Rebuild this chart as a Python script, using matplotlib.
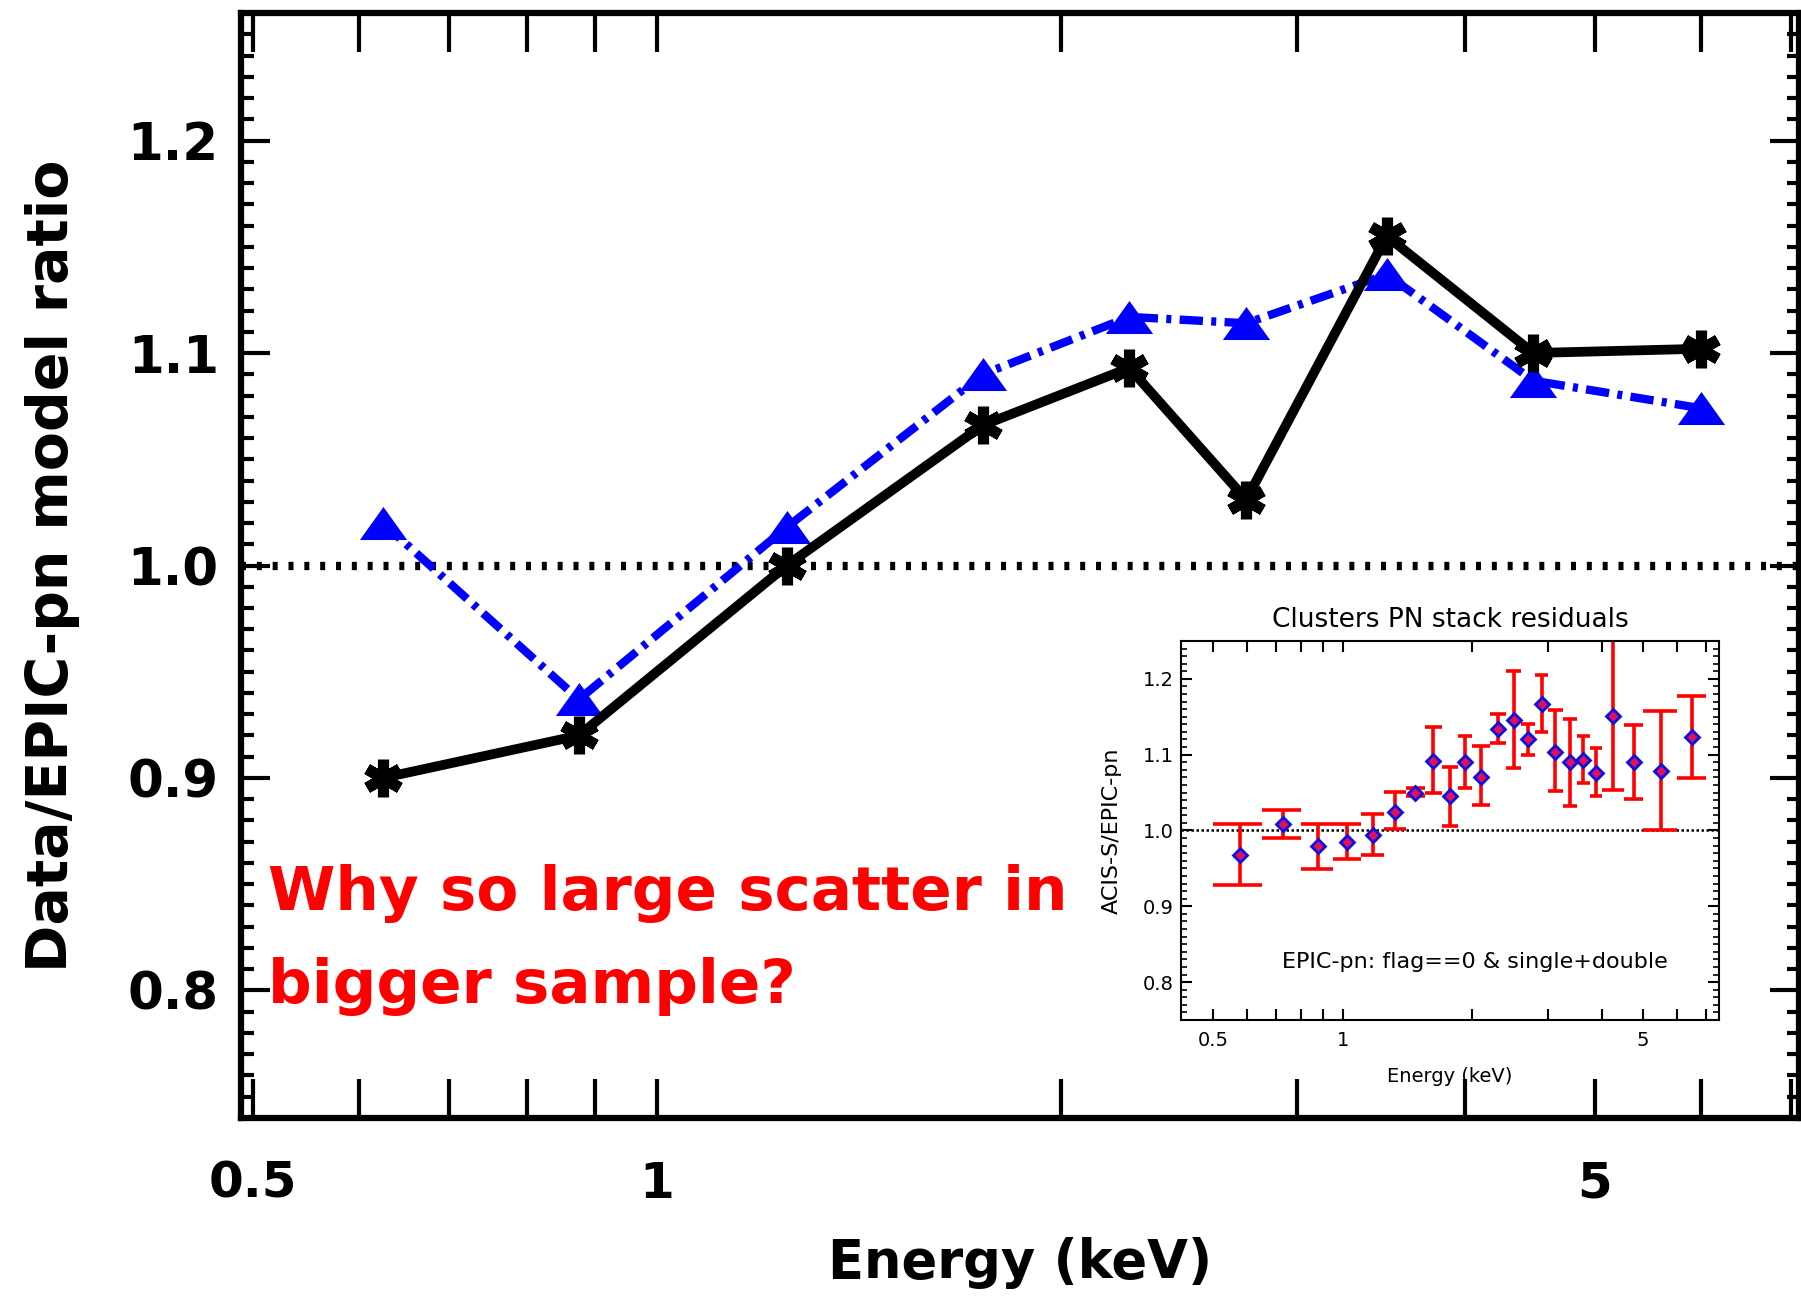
import matplotlib.pyplot as plt
from matplotlib.ticker import MultipleLocator, NullFormatter

# main panel: stacked data / EPIC-pn model ratio
energy = [0.625, 0.875, 1.25, 1.75, 2.25, 2.75, 3.5, 4.5, 6.0]
ratio_black = [0.900, 0.920, 1.000, 1.066, 1.093, 1.031, 1.155, 1.100, 1.102]
ratio_blue = [1.020, 0.937, 1.018, 1.090, 1.117, 1.114, 1.137, 1.087, 1.074]

# inset: clusters PN stack residuals (bin edges, centres, value, upper, lower)
bin_lo = [0.5, 0.65, 0.8, 0.95, 1.1, 1.25, 1.4, 1.55, 1.7, 1.85, 2.0, 2.2,
          2.4, 2.6, 2.8, 3.0, 3.25, 3.5, 3.75, 4.0, 4.5, 5.0, 6.0]
bin_hi = [0.65, 0.8, 0.95, 1.1, 1.25, 1.4, 1.55, 1.7, 1.85, 2.0, 2.2, 2.4,
          2.6, 2.8, 3.0, 3.25, 3.5, 3.75, 4.0, 4.5, 5.0, 6.0, 7.0]
res_e = [0.575, 0.725, 0.875, 1.025, 1.175, 1.325, 1.475, 1.625, 1.775, 1.925,
         2.1, 2.3, 2.5, 2.7, 2.9, 3.125, 3.375, 3.625, 3.875, 4.25, 4.75, 5.5, 6.5]
res_val = [0.968, 1.008, 0.979, 0.985, 0.994, 1.025, 1.050, 1.091, 1.045, 1.090,
           1.071, 1.134, 1.146, 1.120, 1.167, 1.104, 1.090, 1.093, 1.076, 1.151,
           1.090, 1.078, 1.123]
res_hi = [1.008, 1.027, 1.009, 1.009, 1.022, 1.051, 1.056, 1.136, 1.084, 1.124,
          1.111, 1.154, 1.211, 1.141, 1.205, 1.159, 1.147, 1.125, 1.109, 1.260,
          1.139, 1.157, 1.177]
res_lo = [0.928, 0.990, 0.949, 0.963, 0.968, 1.002, 1.045, 1.050, 1.006, 1.056,
          1.033, 1.115, 1.082, 1.100, 1.130, 1.052, 1.032, 1.062, 1.046, 1.053,
          1.042, 1.000, 1.069]

xmajor = [0.5, 1, 5]
xminor = [0.6, 0.7, 0.8, 0.9, 2, 3, 4, 6, 7]
ymajor = [0.8, 0.9, 1.0, 1.1, 1.2]

plt.rcParams['font.family'] = ['DejaVu Sans']

fig = plt.figure(figsize=(18.01, 13.03), dpi=100)
ax = fig.add_axes([0.1338, 0.142, 0.8651, 0.848])

ax.axhline(1.0, color='black', lw=6, linestyle=(0, (0.6, 1.3)), zorder=1)
ax.plot(energy, ratio_blue, color='#0000ff', lw=6,
        linestyle=(0, (2.8, 1.0, 0.6, 1.0)),
        marker=[(0, 0.7), (-1, -0.7), (1, -0.7)], markersize=34,
        markeredgewidth=0, zorder=2)
ax.plot(energy, ratio_black, color='black', lw=7, marker=(6, 2, 0),
        markersize=27, markeredgewidth=8, zorder=3)

ax.set_xscale('log')
ax.set_xlim(0.49, 7.1)
ax.set_ylim(0.74, 1.26)
ax.set_xticks(xmajor)
ax.set_xticklabels(['0.5', '1', '5'])
ax.set_xticks(xminor, minor=True)
ax.xaxis.set_minor_formatter(NullFormatter())
ax.set_yticks(ymajor)
ax.set_yticklabels([f'{v:.1f}' for v in ymajor])
ax.yaxis.set_minor_locator(MultipleLocator(0.01))

ax.tick_params(axis='x', which='both', direction='in', top=True, length=28,
               width=3, pad=30, labelsize=36)
ax.tick_params(axis='y', which='major', direction='in', right=True, length=21,
               width=3, pad=16, labelsize=37)
ax.tick_params(axis='y', which='minor', direction='in', right=True, length=9,
               width=3)
for lab in ax.get_xticklabels() + ax.get_yticklabels():
    lab.set_fontweight('bold')
for sp in ax.spines.values():
    sp.set_linewidth(4.5)

ax.set_xlabel('Energy (keV)', fontsize=38, fontweight='bold', va='center')
ax.xaxis.set_label_coords(0.5, -0.131)
ax.set_ylabel('Data/EPIC-pn model ratio', fontsize=41, fontweight='bold',
              va='center')
ax.yaxis.set_label_coords(-0.121, 0.5)

ax.text(0.0173, 0.188, 'Why so large scatter in', transform=ax.transAxes,
        color='red', fontsize=44, fontweight='bold', va='baseline')
ax.text(0.0173, 0.104, 'bigger sample?', transform=ax.transAxes,
        color='red', fontsize=44, fontweight='bold', va='baseline')

# inset panel
ax2 = fig.add_axes([0.6557, 0.2172, 0.2987, 0.2909])
ax2.set_facecolor('white')
ax2.axhline(1.0, color='black', lw=1.8, linestyle=(0, (1, 1)), zorder=1)
ax2.vlines(res_e, res_lo, res_hi, color='#ff0000', lw=2.6, zorder=2)
ax2.hlines(res_hi, bin_lo, bin_hi, color='#ff0000', lw=2.6, zorder=2)
ax2.hlines(res_lo, bin_lo, bin_hi, color='#ff0000', lw=2.6, zorder=2)
ax2.plot(res_e, res_val, linestyle='none', marker='D', markersize=7.5,
         markerfacecolor='#e0105a', markeredgecolor='#1010dd',
         markeredgewidth=2, zorder=3)

ax2.set_xscale('log')
ax2.set_xlim(0.42, 7.5)
ax2.set_ylim(0.75, 1.25)
ax2.set_xticks(xmajor)
ax2.set_xticklabels(['0.5', '1', '5'])
ax2.set_xticks(xminor, minor=True)
ax2.xaxis.set_minor_formatter(NullFormatter())
ax2.set_yticks(ymajor)
ax2.set_yticklabels([f'{v:.1f}' for v in ymajor])
ax2.yaxis.set_minor_locator(MultipleLocator(0.01))
ax2.tick_params(axis='x', which='both', direction='in', top=True, length=8,
                width=1.5, pad=8, labelsize=14)
ax2.tick_params(axis='y', which='major', direction='in', right=True, length=8,
                width=1.5, pad=5, labelsize=14)
ax2.tick_params(axis='y', which='minor', direction='in', right=True, length=4,
                width=1.2)
for sp in ax2.spines.values():
    sp.set_linewidth(1.5)

ax2.set_xlabel('Energy (keV)', fontsize=14, va='center')
ax2.xaxis.set_label_coords(0.5, -0.148)
ax2.set_ylabel('ACIS-S/EPIC-pn', fontsize=16, va='center')
ax2.yaxis.set_label_coords(-0.128, 0.5)
ax2.text(0.5, 1.055, 'Clusters PN stack residuals', transform=ax2.transAxes,
         ha='center', va='center', fontsize=19)
ax2.text(0.546, 0.152, 'EPIC-pn: flag==0 & single+double',
         transform=ax2.transAxes, ha='center', va='center', fontsize=16)

fig.savefig('out.png', dpi=100)
